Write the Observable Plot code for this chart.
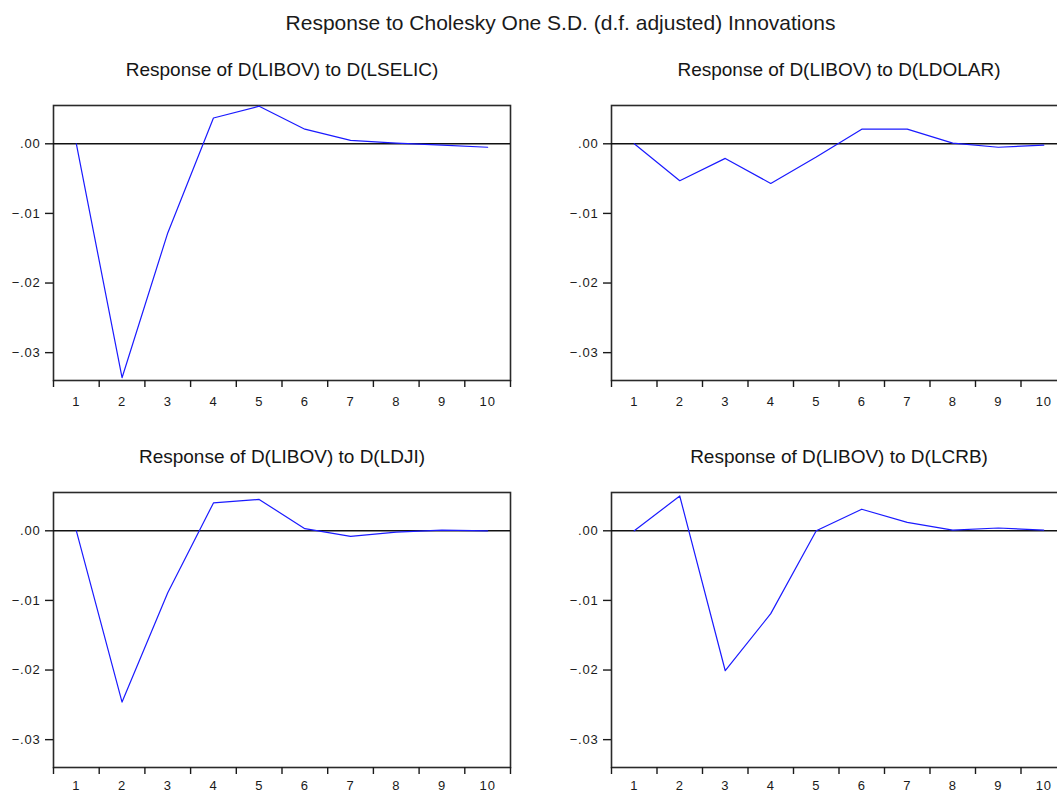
<!DOCTYPE html>
<html>
<head>
<meta charset="utf-8">
<script src="https://cdn.jsdelivr.net/npm/d3@7"></script>
<script src="https://cdn.jsdelivr.net/npm/@observablehq/plot@0.6"></script>
<style>
  html, body { margin: 0; padding: 0; background: #fff; overflow: hidden; }
  #root { position: relative; width: 1057px; height: 792px; overflow: hidden; }
  #main-title { position: absolute; left: 0; top: 12px; width: 1121px; text-align: center;
    font-family: "Liberation Sans", Arial, sans-serif; font-size: 21px; line-height: 21px; color: #1a1a1a; }
  .panel { position: absolute; }
  .panel svg { max-width: none !important; display: block; }
  .panel svg g[aria-label$="tick label"] text { letter-spacing: 0.8px; }
</style>
</head>
<body>
<div id="root">
  <div id="main-title">Response to Cholesky One S.D. (d.f. adjusted) Innovations</div>
</div>
<script>
// ---- data ----
const periods = [1, 2, 3, 4, 5, 6, 7, 8, 9, 10];
const yTicks = [0, -0.01, -0.02, -0.03];
const yDomain = [-0.034, 0.0055];

const titleLSELIC = "Response of D(LIBOV) to D(LSELIC)";
const titleLDOLAR = "Response of D(LIBOV) to D(LDOLAR)";
const titleLDJI = "Response of D(LIBOV) to D(LDJI)";
const titleLCRB = "Response of D(LIBOV) to D(LCRB)";

const respLSELIC = [0, -0.0336, -0.0128, 0.0037, 0.0054, 0.0021, 0.0005, 0.0001, -0.0002, -0.0005];
const respLDOLAR = [0, -0.0053, -0.0021, -0.0057, -0.0019, 0.0021, 0.0021, 0.0001, -0.0005, -0.0002];
const respLDJI   = [0, -0.0246, -0.0089, 0.0040, 0.0045, 0.0003, -0.0008, -0.0002, 0.0001, 0.0000];
const respLCRB   = [0, 0.0050, -0.0201, -0.0119, 0.0000, 0.0031, 0.0012, 0.0001, 0.0004, 0.0001];

// ---- drawing ----
const boundaries = periods.map(p => p - 0.5).concat([periods[periods.length - 1] + 0.5]);
const fmt = d => d3.format(".2f")(d).replace("0.", ".");

function panel(title, values, frameWidth, labelPad) {
  const data = periods.map((p, i) => ({period: p, value: values[i]}));
  const mL = 53, mR = 12;
  return Plot.plot({
    width: mL + frameWidth + mR,
    height: 366,
    marginTop: 60,
    marginBottom: 31,
    marginLeft: mL,
    marginRight: mR,
    x: {domain: [0.5, 10.5]},
    y: {domain: yDomain},
    style: {fontFamily: "'Liberation Sans', Arial, sans-serif", fontSize: "13px", color: "#1a1a1a", background: "white", overflow: "visible"},
    marks: [
      Plot.frame({stroke: "#2a2a2a", strokeWidth: 1.6}),
      Plot.ruleY([0], {stroke: "#111", strokeWidth: 1.4}),
      Plot.axisY({ticks: yTicks, tickSize: 8, tickPadding: 5, tickFormat: fmt, label: null, strokeWidth: 1.4, fontSize: 13}),
      Plot.axisX({ticks: boundaries, tickSize: 7, tickFormat: () => "", label: null, strokeWidth: 1.4}),
      Plot.axisX({ticks: periods, tickSize: 0, tickPadding: labelPad, tickFormat: d => String(d), label: null, fontSize: 13}),
      Plot.line(data, {x: "period", y: "value", stroke: "#1a1aff", strokeWidth: 1.2}),
      Plot.text([title], {text: d => d, frameAnchor: "top", lineAnchor: "top", dy: -43, fontSize: 19, fill: "#151515"})
    ]
  });
}

const root = document.getElementById("root");
const layout = [
  {title: titleLSELIC, values: respLSELIC, left: 0,   top: 45,  w: 457, pad: 16},
  {title: titleLDOLAR, values: respLDOLAR, left: 558, top: 45,  w: 455, pad: 16},
  {title: titleLDJI,   values: respLDJI,   left: 0,   top: 432, w: 457, pad: 13},
  {title: titleLCRB,   values: respLCRB,   left: 558, top: 432, w: 455, pad: 13}
];
for (const p of layout) {
  const div = document.createElement("div");
  div.className = "panel";
  div.style.left = p.left + "px";
  div.style.top = p.top + "px";
  div.style.width = (53 + p.w + 12) + "px";
  div.appendChild(panel(p.title, p.values, p.w, p.pad));
  root.appendChild(div);
}
</script>
</body>
</html>
